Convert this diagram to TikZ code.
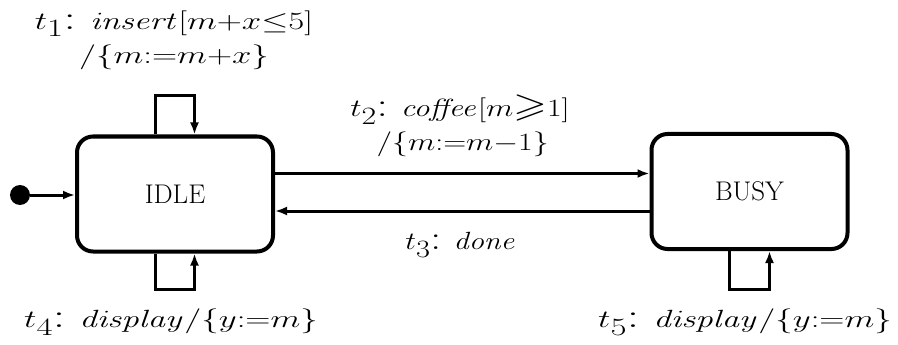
\documentclass[tikz,border=0pt]{standalone}
\usepackage{amssymb}
\usepackage{graphicx}
\usetikzlibrary{arrows.meta}
\newcommand{\wideln}[2][1.3]{\scalebox{#1}[1]{$#2$}}
\begin{document}
\begin{tikzpicture}[x=1pt,y=-1pt,
 state/.style={draw, line width=4pt, rounded corners=16pt, minimum width=196pt, minimum height=115pt, font=\fontsize{27}{30}\selectfont, inner sep=0pt},
 conn/.style={line width=3pt, -{Latex[length=12pt,width=9pt]}},
 lbl/.style={font=\fontsize{34}{34}\selectfont, align=center, inner sep=0pt}]
\useasboundingbox (0,0) rectangle (898,345);
\node[state] (idle) at (175,194) {IDLE};
\node[state] (busy) at (749.5,191.5) {BUSY};
\node[circle, fill, inner sep=0pt, minimum size=20pt] (init) at (20,195) {};
\coordinate (a2) at (0,173.5);
\coordinate (a3) at (0,211);
\draw[conn] (init) -- (idle.west |- init);
\draw[conn] (idle.east |- a2) -- (busy.west |- a2);
\draw[conn] (busy.west |- a3) -- (idle.east |- a3);
\draw[conn] ([xshift=-19.5pt]idle.north) -- ++(0,-39) -| ([xshift=19.5pt]idle.north);
\draw[conn] ([xshift=-19.5pt]idle.south) -- ++(0,36) -| ([xshift=19.5pt]idle.south);
\draw[conn] ([xshift=-20pt]busy.south) -- ++(0,38) -| ([xshift=20pt]busy.south);
\node[lbl] (t1) at (174,40) {\wideln[1.4]{t_1\textrm{:}\ \mathit{insert}[m{+}x{\leq}5]}\\ \wideln[1.4]{/\{m{:=}m{+}x\}}};
\node[lbl] (t2) at (460,126) {\wideln[1.28]{t_2\textrm{:}\ \mathit{coffee}[m{\geqslant}1]}\\ \wideln[1.28]{\,/\{m{:=}m{-}1\}}};
\node[lbl] (t3) at (461,245) {\wideln[1.22]{t_3\textrm{:}\ \mathit{done}}};
\node[lbl] (t4) at (171,322) {\wideln[1.4]{t_4\textrm{:}\ \mathit{display}/\{y{:=}m\}}};
\node[lbl] (t5) at (745,322) {\wideln[1.4]{t_5\textrm{:}\ \mathit{display}/\{y{:=}m\}}};
\end{tikzpicture}
\end{document}
